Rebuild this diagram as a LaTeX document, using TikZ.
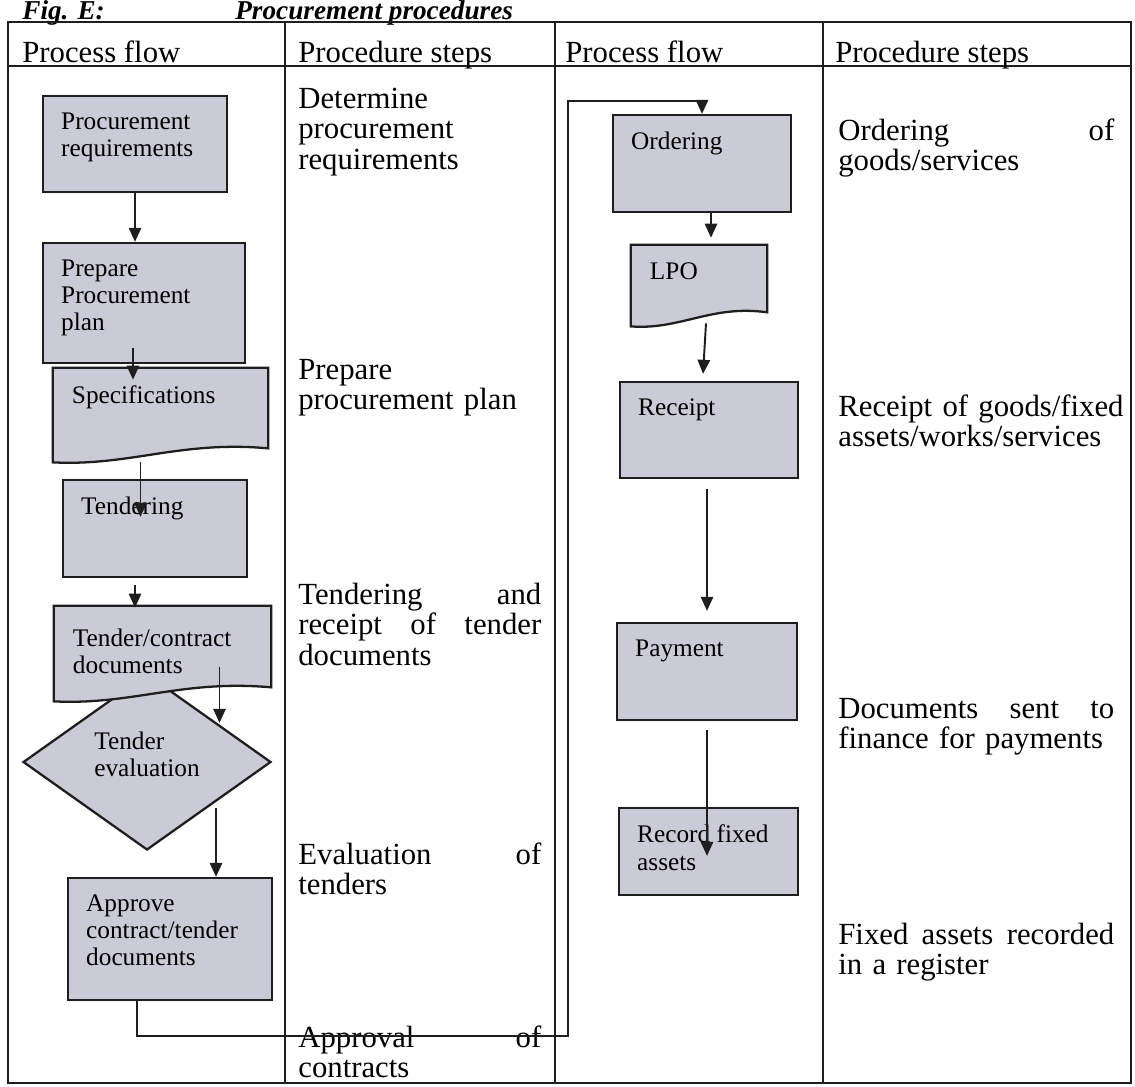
\documentclass[tikz,border=0pt]{standalone}
\usepackage{fontspec}
\setmainfont{Liberation Serif}
\usepackage{tikz}
\usetikzlibrary{calc}
\usetikzlibrary{arrows.meta}
\usetikzlibrary{shapes.geometric}
\definecolor{boxgray}{RGB}{203,203,215}
\definecolor{inkline}{RGB}{30,30,30}
\newcommand{\cellfont}{\fontsize{17.5}{17.2}\selectfont}
\newcommand{\boxfont}{\fontsize{14.4}{15.4}\selectfont}
\newcommand{\docoutline}[1]{\path[docline] (#1.north west) -- (#1.north east) -- (#1.south east) .. controls ($(#1.south east)!0.41!(#1.south west)+(0,-8)$) and ($(#1.south west)!0.36!(#1.south east)+(0,18)$) .. ($(#1.south west)+(0,14)$) -- cycle;}

\begin{document}
\begin{tikzpicture}[x=0.02cm,y=-0.02cm,
	tabline/.style={line width=1.1pt,draw=inkline},
	proc/.style={draw=inkline,line width=1.3pt,fill=boxgray,inner sep=0pt},
	docbox/.style={inner sep=0pt},
	docline/.style={draw=inkline,line width=1.3pt,fill=boxgray},
	boxtext/.style={anchor=north west,inner sep=0pt,xshift=10.8pt,yshift=-10.2pt,align=left,font=\boxfont},
	cell/.style={anchor=north west,inner sep=0pt,align=left,font=\cellfont},
	cellA/.style={cell,text width=4.86cm},
	cellB/.style={cell,text width=5.52cm},
	head/.style={anchor=base west,inner sep=0pt,font=\cellfont},
	ttl/.style={anchor=base west,inner sep=0pt,font=\fontsize{15.5}{16}\selectfont\bfseries\itshape},
	flow/.style={line width=1.1pt,draw=inkline,-{Triangle[length=8pt,width=7pt]}}]
	\useasboundingbox (0,0) rectangle (1135,1086);
	\node[ttl] (figno) at (22,19) {Fig. E:};
	\node[ttl] (figttl) at (235,19) {Procurement procedures};
	\draw[tabline] (8,22) rectangle (1131,1083);
	\draw[tabline] (8,66) -- (1131,66);
	\draw[tabline] (285,22) -- (285,1083);
	\draw[tabline] (555,22) -- (555,1083);
	\draw[tabline] (823,22) -- (823,1083);
	\node[head] (h1) at (22,62) {Process flow};
	\node[head] (h2) at (298,62) {Procedure steps};
	\node[head] (h3) at (565,62) {Process flow};
	\node[head] (h4) at (835,62) {Procedure steps};
	\node[proc,minimum width=3.68cm,minimum height=1.92cm] (req) at (135,144) {};
	\node[boxtext] (reqt) at (req.north west) {Procurement\\requirements};
	\node[proc,minimum width=4.04cm,minimum height=2.4cm] (plan) at (144,303) {};
	\node[boxtext] (plant) at (plan.north west) {Prepare\\Procurement\\plan};
	\node[docbox,minimum width=4.3cm,minimum height=1.6cm] (spec) at (160.5,408) {};
	\docoutline{spec}
	\node[boxtext] (spect) at (spec.north west) {Specifications};
	\node[proc,minimum width=3.68cm,minimum height=1.94cm] (tend) at (155,528.5) {};
	\node[boxtext] (tendt) at (tend.north west) {Tendering};
	\node[diamond,draw=inkline,line width=1.3pt,fill=boxgray,inner sep=0pt,minimum width=4.96cm,minimum height=3.52cm] (eval) at (147,762) {};
	\node[font=\boxfont,align=left,inner sep=0pt] (evalt) at ($(eval.center)+(0,-8)$) {Tender\\evaluation};
	\node[docbox,minimum width=4.34cm,minimum height=1.62cm] (tcd) at (162.5,646.5) {};
	\docoutline{tcd}
	\node[boxtext,yshift=-3pt] (tcdt) at (tcd.north west) {Tender/contract\\documents};
	\node[proc,minimum width=4.08cm,minimum height=2.44cm] (appr) at (170,939) {};
	\node[boxtext] (apprt) at (appr.north west) {Approve\\contract/tender\\documents};
	\node[proc,minimum width=3.56cm,minimum height=1.94cm] (ord) at (702,163.5) {};
	\node[boxtext] (ordt) at (ord.north west) {Ordering};
	\node[docbox,minimum width=2.72cm,minimum height=1.34cm] (lpo) at (699,278.5) {};
	\docoutline{lpo}
	\node[boxtext] (lpot) at (lpo.north west) {LPO};
	\node[proc,minimum width=3.56cm,minimum height=1.92cm] (rec) at (709,430) {};
	\node[boxtext] (rect) at (rec.north west) {Receipt};
	\node[proc,minimum width=3.6cm,minimum height=1.94cm] (pay) at (707,671.5) {};
	\node[boxtext] (payt) at (pay.north west) {Payment};
	\node[proc,minimum width=3.58cm,minimum height=1.74cm] (rfa) at (708.5,851.5) {};
	\node[boxtext] (rfat) at (rfa.north west) {Record fixed\\assets};
	\node[cellA] (s1) at (298,88) {Determine\\procurement\\requirements};
	\node[cellA] (s2) at (298,359) {Prepare\\procurement plan};
	\node[cellA] (s3) at (298,583) {Tendering\hfill and\\receipt\hfill of\hfill tender\\documents};
	\node[cellA] (s4) at (298,842) {Evaluation\hfill of\\tenders};
	\node[cellA] (s5) at (298,1025) {Approval\hfill of\\contracts};
	\node[cellB] (s6) at (838,118) {Ordering\hfill of\\goods/services};
	\node[cellB] (s7) at (838,394) {\mbox{Receipt of goods/fixed}\\assets/works/services};
	\node[cellB] (s8) at (838,698) {Documents\hfill sent\hfill to\\finance for payments};
	\node[cellB] (s9) at (838,923) {Fixed\hfill assets\hfill recorded\\in a register};
	\coordinate (loopB) at (568,1036);
	\coordinate (loopT) at (568,101);
	\draw[flow] (req.south) -- (req.south |- plan.north);
	\draw[flow] ($(plan.south)+(-11,-16)$) -- ($(plan.south |- spec.north)+(-11,12)$);
	\draw[flow] ($(spec.south)+(-20,14)$) -- ($(spec.south |- tend.north)+(-20,38)$);
	\draw[flow] ($(tend.south)+(-20,7)$) -- ($(tend.south |- tcd.north)+(-20,2)$);
	\draw[flow] ($(tcd.north)+(57,61)$) -- ($(tcd.north |- eval.north)+(57,50)$);
	\draw[flow] ($(eval.center)+(69,46)$) -- ($(eval.center |- appr.north)+(69,0)$);
	\draw[flow] ($(appr.south)+(-33,0)$) |- (loopB) -- (loopT) -| (ord.north);
	\draw[flow] ($(ord.south)+(9,0)$) -- ($(ord.south |- lpo.north)+(9,-7)$);
	\draw[flow] ($(lpo.south)+(7,11)$) -- ($(rec.north)+(-6,-7)$);
	\draw[flow] ($(rec.south)+(-2,10)$) -- ($(rec.south |- pay.north)+(-2,-11)$);
	\draw[flow] ($(pay.south)+(0,9)$) -- ($(pay.south |- rfa.north)+(0,49)$);
\end{tikzpicture}
\end{document}
